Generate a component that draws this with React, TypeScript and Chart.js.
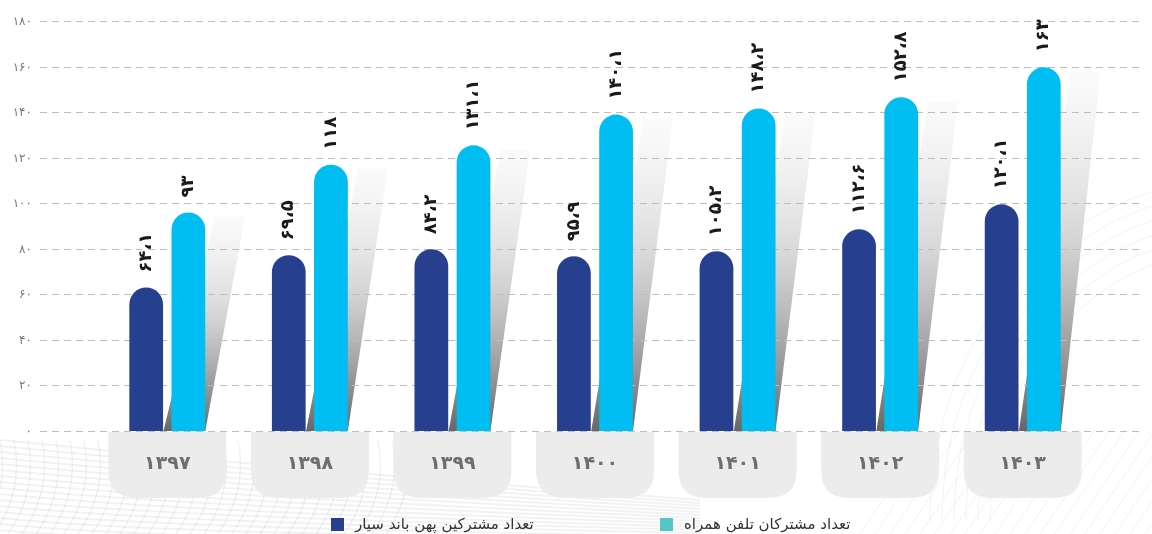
import { useEffect, useRef } from 'react';
import { Chart, registerables } from 'chart.js';

Chart.register(...registerables);

const years = ['۱۳۹۷', '۱۳۹۸', '۱۳۹۹', '۱۴۰۰', '۱۴۰۱', '۱۴۰۲', '۱۴۰۳'];
// bar heights as drawn in the picture
const broadbandBars = [63.0, 77.2, 79.8, 76.7, 78.9, 88.6, 99.5];
const mobileBars = [95.9, 116.9, 125.4, 138.9, 141.6, 146.5, 159.7];
// printed value labels
const broadbandLabels = ['۶۴،۱', '۶۹،۵', '۸۴،۲', '۹۵،۹', '۱۰۵،۲', '۱۱۲،۶', '۱۲۰،۱'];
const mobileLabels = ['۹۳', '۱۱۸', '۱۳۱،۱', '۱۴۰،۱', '۱۴۸،۲', '۱۵۲،۸', '۱۶۳'];
const seriesNames = ['تعداد مشترکین پهن باند سیار', 'تعداد مشترکان تلفن همراه'];
const yMin = 0;
const yMax = 180;
const yStep = 20;

const DARK = '#263f8e';
const CYAN = '#00bdf2';
const LEGEND_TEAL = '#55c5c8';
const FONT = "'DejaVu Sans', sans-serif";

const faDigits = (s: string) => s.replace(/[0-9]/g, (d) => '۰۱۲۳۴۵۶۷۸۹'[+d]);

const bgPlugin = {
  id: 'bgDecor',
  beforeDraw(chart: any) {
    const { ctx, width, height } = chart;
    ctx.save();
    ctx.fillStyle = '#ffffff';
    ctx.fillRect(0, 0, width, height);
    // bottom-left wave mesh
    ctx.strokeStyle = 'rgba(0,0,0,0.05)';
    ctx.lineWidth = 2;
    for (let k = 0; k < 16; k++) {
      ctx.beginPath();
      ctx.moveTo(0, 440 + k * 6);
      ctx.bezierCurveTo(120, 452 + k * 6, 300, 470 + k * 5, 700, 500 + k * 3);
      ctx.stroke();
    }
    ctx.lineWidth = 1.5;
    for (let k = 0; k < 30; k++) {
      ctx.beginPath();
      const x0 = k * 14;
      ctx.moveTo(x0, 440);
      ctx.quadraticCurveTo(x0 + 10, 490, x0 - 20, 534);
      ctx.stroke();
    }
    // right diagonal lines
    ctx.strokeStyle = 'rgba(0,0,0,0.05)';
    ctx.lineWidth = 1;
    for (let x = 860; x < 1200; x += 15) {
      ctx.beginPath();
      ctx.moveTo(x, 534);
      ctx.lineTo(x + 70, 430);
      ctx.stroke();
    }
    for (let r = 0; r < 6; r++) {
      ctx.beginPath();
      ctx.ellipse(1230, 520, 300 - r * 12, 340 - r * 14, 0, Math.PI, Math.PI * 1.5);
      ctx.stroke();
    }
    ctx.restore();
  },
};

const underPlugin = {
  id: 'under',
  beforeDatasetsDraw(chart: any) {
    const { ctx } = chart;
    const y = chart.scales.y;
    const x = chart.scales.x;
    const cyanMeta = chart.getDatasetMeta(1);
    ctx.save();
    // slanted shadows behind the cyan bars
    cyanMeta.data.forEach((bar: any) => {
      const p = bar.getProps(['x', 'y', 'base', 'width'], true);
      const l = p.x - p.width / 2;
      const r = p.x + p.width / 2;
      const g = ctx.createLinearGradient(0, p.base, 0, p.y);
      g.addColorStop(0, 'rgba(95,95,95,0.95)');
      g.addColorStop(0.55, 'rgba(190,190,190,0.6)');
      g.addColorStop(1, 'rgba(240,240,240,0.25)');
      ctx.fillStyle = g;
      ctx.beginPath();
      ctx.moveTo(l - 8, p.base);
      ctx.lineTo(r, p.base);
      ctx.lineTo(r + 40, p.y + 4);
      ctx.lineTo(r + 10, p.y + 4);
      ctx.closePath();
      ctx.fill();
    });
    // dashed grid lines and y labels
    ctx.lineWidth = 1;
    ctx.font = `12px ${FONT}`;
    ctx.textAlign = 'right';
    ctx.textBaseline = 'middle';
    for (let v = yMin; v <= yMax; v += yStep) {
      const py = Math.round(y.getPixelForValue(v)) + 0.5;
      ctx.strokeStyle = '#bdbdbd';
      ctx.setLineDash([7, 5]);
      ctx.beginPath();
      ctx.moveTo(40, py);
      ctx.lineTo(1142, py);
      ctx.stroke();
      ctx.setLineDash([]);
      ctx.fillStyle = '#777777';
      ctx.fillText(faDigits(String(v)), 32, py);
    }
    // category boxes and labels
    const top = chart.chartArea.bottom + 1;
    const h = 66;
    const w = 118;
    const rad = 28;
    years.forEach((label, i) => {
      const cx = x.getPixelForValue(i);
      const bl = cx - w / 2;
      ctx.fillStyle = '#ececec';
      ctx.beginPath();
      ctx.moveTo(bl, top);
      ctx.lineTo(bl + w, top);
      ctx.lineTo(bl + w, top + h - rad);
      ctx.quadraticCurveTo(bl + w, top + h, bl + w - rad, top + h);
      ctx.lineTo(bl + rad, top + h);
      ctx.quadraticCurveTo(bl, top + h, bl, top + h - rad);
      ctx.closePath();
      ctx.fill();
      ctx.fillStyle = '#6e6e6e';
      ctx.font = `bold 19px ${FONT}`;
      ctx.textAlign = 'center';
      ctx.textBaseline = 'middle';
      ctx.fillText(label, cx, top + 32);
    });
    ctx.restore();
  },
};

const labelPlugin = {
  id: 'valueLabels',
  afterDatasetsDraw(chart: any) {
    const { ctx } = chart;
    const sets = [broadbandLabels, mobileLabels];
    ctx.save();
    ctx.fillStyle = '#1a1a1a';
    ctx.font = `bold 18px ${FONT}`;
    ctx.textAlign = 'left';
    ctx.textBaseline = 'middle';
    sets.forEach((labels, di) => {
      chart.getDatasetMeta(di).data.forEach((bar: any, i: number) => {
        const p = bar.getProps(['x', 'y'], true);
        ctx.save();
        ctx.translate(p.x, p.y - 15);
        ctx.rotate(-Math.PI / 2);
        ctx.fillText(labels[i], 0, 0);
        ctx.restore();
      });
    });
    ctx.restore();
  },
  afterDraw(chart: any) {
    const { ctx } = chart;
    ctx.save();
    const items = [
      { color: DARK, x: 331, text: seriesNames[0] },
      { color: LEGEND_TEAL, x: 660, text: seriesNames[1] },
    ];
    ctx.font = `15px ${FONT}`;
    ctx.textBaseline = 'middle';
    ctx.textAlign = 'left';
    items.forEach((it) => {
      ctx.fillStyle = it.color;
      ctx.fillRect(it.x, 518, 13, 13);
      ctx.fillStyle = '#333333';
      ctx.direction = 'rtl';
      ctx.fillText(it.text, it.x + 24, 525);
    });
    ctx.restore();
  },
};

export default function App() {
  const ref = useRef<HTMLCanvasElement | null>(null);
  useEffect(() => {
    document.body.style.margin = '0';
    if (!ref.current) return;
    const chart = new Chart(ref.current, {
      type: 'bar',
      data: {
        labels: years,
        datasets: [
          {
            label: seriesNames[0],
            data: broadbandBars,
            backgroundColor: DARK,
            borderRadius: 20,
            borderSkipped: 'start',
            categoryPercentage: 0.5915,
            barPercentage: 0.8,
          },
          {
            label: seriesNames[1],
            data: mobileBars,
            backgroundColor: CYAN,
            borderRadius: 20,
            borderSkipped: 'start',
            categoryPercentage: 0.5915,
            barPercentage: 0.8,
          },
        ],
      },
      options: {
        animation: false,
        responsive: false,
        maintainAspectRatio: false,
        layout: { padding: { left: 0, right: 58, top: 21, bottom: 0 } },
        plugins: { legend: { display: false }, tooltip: { enabled: false } },
        scales: {
          x: {
            grid: { display: false },
            border: { display: false },
            ticks: { display: false },
            afterFit: (axis: any) => {
              axis.height = 103;
              axis.paddingLeft = 0;
              axis.paddingRight = 0;
            },
          },
          y: {
            min: yMin,
            max: yMax,
            grid: { display: false, drawTicks: false },
            border: { display: false },
            ticks: { display: false, stepSize: yStep },
            afterFit: (axis: any) => {
              axis.width = 96;
              axis.paddingTop = 0;
              axis.paddingBottom = 0;
            },
          },
        },
      },
      plugins: [bgPlugin, underPlugin, labelPlugin],
    });
    return () => chart.destroy();
  }, []);
  return (
    <div style={{ width: 1152, height: 534 }}>
      <canvas ref={ref} width={1152} height={534} style={{ display: 'block' }} />
    </div>
  );
}
